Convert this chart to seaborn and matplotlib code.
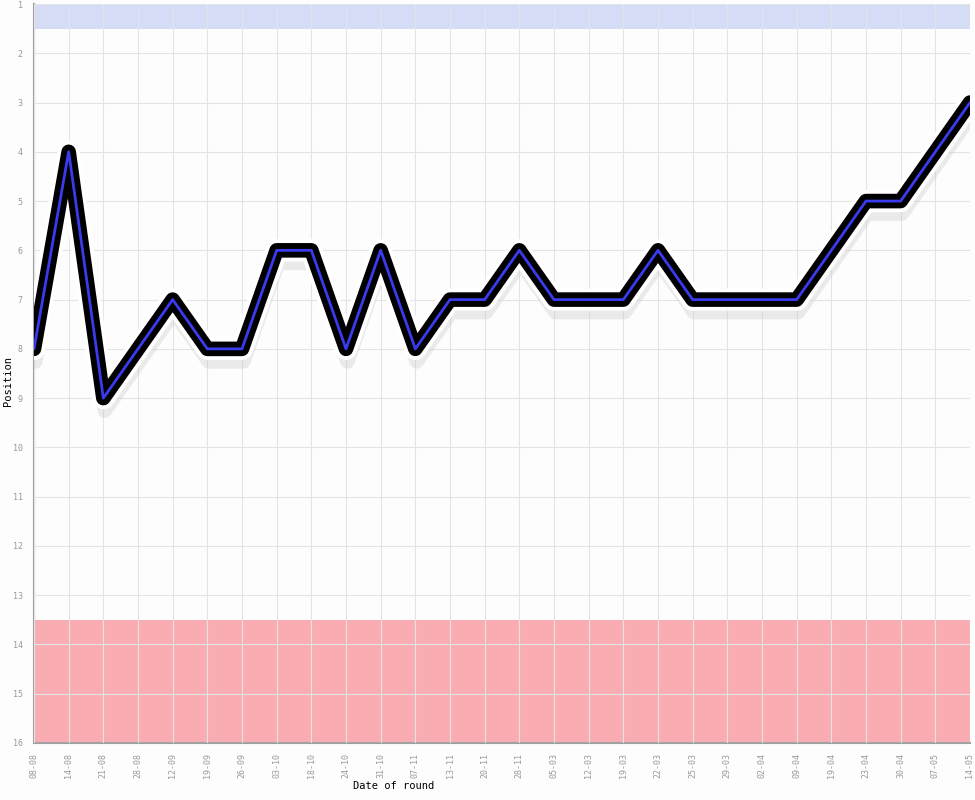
import pandas as pd
import matplotlib.pyplot as plt
import matplotlib.patheffects as pe
import seaborn as sns

rounds = ['08-08', '14-08', '21-08', '28-08', '12-09', '19-09', '26-09', '03-10',
          '18-10', '24-10', '31-10', '07-11', '13-11', '20-11', '28-11', '05-03',
          '12-03', '19-03', '22-03', '25-03', '29-03', '02-04', '09-04', '19-04',
          '23-04', '30-04', '07-05', '14-05']
positions = [8, 4, 9, 8, 7, 8, 8, 6, 6, 8, 6, 8, 7, 7, 6, 7, 7, 7, 6, 7, 7, 7, 7, 6,
             5, 5, 4, 3]
top_zone = (1, 1.5)
bottom_zone = (13.5, 16)

sns.set_style('white')
plt.rcParams['font.family'] = ['DejaVu Sans Mono']

df = pd.DataFrame({'round': rounds, 'pos': positions})
df['idx'] = range(len(rounds))

fig = plt.figure(figsize=(9.75, 8.0), dpi=100, facecolor='#fcfdfc')
ax = fig.add_axes([34 / 975, 57 / 800, 936 / 975, 739 / 800])
ax.set_facecolor('#fcfdfc')

ax.axhspan(*top_zone, color='#d5dcf6', zorder=0, lw=0)
ax.axhspan(*bottom_zone, color='#f9adb3', zorder=0, lw=0)

# black thick line with white halo and soft shadow
sns.lineplot(data=df, x='idx', y='pos', ax=ax, color='black', lw=10.5, zorder=3,
             solid_joinstyle='round', solid_capstyle='round',
             path_effects=[pe.SimpleLineShadow(offset=(1, -9), shadow_color='#c0c0c0', alpha=0.3),
                           pe.Stroke(linewidth=16, foreground='white'),
                           pe.Normal()])
sns.lineplot(data=df, x='idx', y='pos', ax=ax, color='#3a3aee', lw=2.0, zorder=4)

ax.set_xlim(0, len(rounds) - 1)
ax.set_ylim(16, 1)
ax.set_xticks(range(len(rounds)))
ax.set_xticklabels(rounds, rotation=90, fontsize=6, color='#999999')
ax.set_yticks(range(1, 17))
ax.set_yticklabels([str(i) for i in range(1, 17)], fontsize=6, color='#999999')
ax.tick_params(length=0, pad=8)
ax.tick_params(axis='x', pad=7)

ax.grid(True, color='#e4e4e4', lw=0.8, zorder=1)
ax.set_axisbelow(False)
for line in ax.get_xgridlines() + ax.get_ygridlines():
    line.set_zorder(1)

for s in ['top', 'right']:
    ax.spines[s].set_visible(False)
for s in ['left', 'bottom']:
    ax.spines[s].set_color('#a0a0a0')
    ax.spines[s].set_linewidth(1.5)

ax.set_xlabel('Date of round', fontsize=7.5, color='black')
ax.set_ylabel('Position', fontsize=7.5, color='black')
ax.xaxis.set_label_coords(0.384, -0.052)
ax.yaxis.set_label_coords(-0.022, 0.49)

fig.savefig('out.png', dpi=100, facecolor=fig.get_facecolor())
